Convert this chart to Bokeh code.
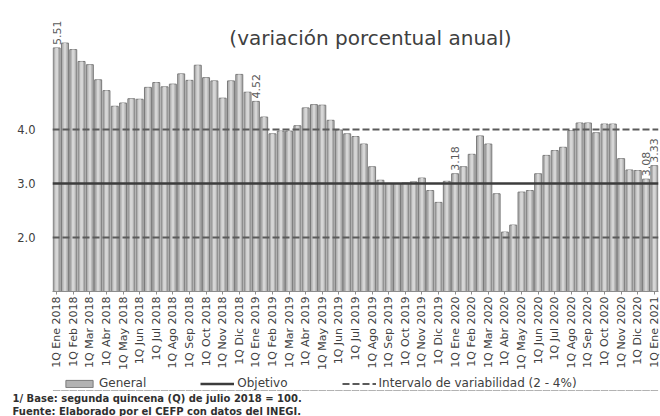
import math
from bokeh.plotting import figure
from bokeh.layouts import column
from bokeh.models import (ColumnDataSource, Range1d, FixedTicker, Label, Legend,
                          LegendItem, PrintfTickFormatter, Title)
from bokeh.embed import file_html
from bokeh.resources import INLINE
from bokeh.core.properties import value

# ---------------- data ----------------
months = ["Ene", "Feb", "Mar", "Abr", "May", "Jun", "Jul", "Ago", "Sep", "Oct", "Nov", "Dic"]
years = [2018, 2019, 2020, 2021]

inflation = [
    5.51, 5.60, 5.48, 5.26, 5.20, 4.92, 4.72, 4.43, 4.49, 4.57, 4.56, 4.78,
    4.87, 4.79, 4.84, 5.03, 4.91, 5.19, 4.96, 4.90, 4.58, 4.90, 5.02, 4.69,
    4.52, 4.23, 3.92, 3.97, 3.97, 4.07, 4.40, 4.46, 4.45, 4.17, 3.99, 3.92,
    3.87, 3.73, 3.31, 3.06, 3.00, 3.00, 3.01, 3.03, 3.10, 2.87, 2.65, 3.04,
    3.18, 3.31, 3.54, 3.88, 3.73, 2.81, 2.10, 2.23, 2.84, 2.87, 3.18, 3.52,
    3.61, 3.67, 3.98, 4.12, 4.12, 3.94, 4.10, 4.10, 3.46, 3.25, 3.24, 3.08,
    3.33,
]
quincenas = [f"{q}Q {m} {y}" for y in years for m in months for q in ("1", "2")][:len(inflation)]
labeled_idx = [0, 24, 48, 71, 72]
objetivo = 3.0
intervalo = [2.0, 4.0]
y_ticks = [2.0, 3.0, 4.0]

title_text = "(variación porcentual anual)"
legend_labels = ["General", "Objetivo", "Intervalo de variabilidad (2 - 4%)"]
notes = ["1/ Base: segunda quincena (Q) de julio 2018 = 100.",
         "Fuente: Elaborado por el CEFP con  datos del INEGI."]

# ---------------- styles ----------------
FONT = "DejaVu Sans"
TXT = "#404040"
BAR_FILL, BAR_LINE, BAR_STRIPE = "#b2b2b2", "#7a7a7a", "#d6d6d6"
OBJ_COLOR, INT_COLOR = "#3c3c3c", "#5a5a5a"

W = 660
H1, H2 = 373, 43
ML, MR, MT, MB = 52, 2, 21, 82
n = len(inflation)
idx = list(range(n))
Y0, Y1 = 1.0, 6.0
frame_w = W - ML - MR
frame_h = H1 - MT - MB


def px_x(sx):  # page px -> data x
    return -0.5 + (sx - ML) / frame_w * n


def px_y(sy):  # page px -> data y
    return Y0 + (H1 - MB - sy) / frame_h * (Y1 - Y0)


src = ColumnDataSource(dict(x=idx, top=inflation, label=quincenas))
line_x = [-0.5, n - 0.5]


def draw_series(fig, stripes=True):
    b = fig.vbar(x="x", top="top", bottom=0, width=0.84, source=src,
                 fill_color=BAR_FILL, line_color=BAR_LINE, line_width=1)
    if stripes:
        fig.vbar(x="x", top="top", bottom=0, width=0.34, source=src,
                 fill_color=BAR_STRIPE, line_color=None)
    o = fig.line(line_x, [objetivo] * 2, line_color=OBJ_COLOR, line_width=2.5)
    i = [fig.line(line_x, [lvl] * 2, line_color=INT_COLOR, line_width=2, line_dash="7 3")
         for lvl in intervalo]
    return b, o, i


# ---------------- main chart ----------------
p = figure(width=W, height=H1, output_backend="svg", toolbar_location=None,
           x_range=Range1d(-0.5, n - 0.5), y_range=Range1d(Y0, Y1),
           min_border_left=ML, min_border_right=MR, min_border_top=MT,
           min_border_bottom=MB)
p.outline_line_color = None
p.xgrid.visible = False
p.ygrid.visible = False
draw_series(p)

lab_y = [inflation[i] for i in labeled_idx]
p.text(x=labeled_idx, y=lab_y, text=[f"{v:.2f}" for v in lab_y], angle=math.pi / 2,
       text_align="left", text_baseline="middle", y_offset=-3,
       text_font=value(FONT), text_font_size="11px", text_color="#5a5a5a")

xa = p.xaxis[0]
xa.ticker = FixedTicker(ticks=idx[::2])
xa.major_label_overrides = {i: quincenas[i] for i in idx[::2]}
xa.major_label_orientation = math.pi / 2
xa.major_label_text_font = FONT
xa.major_label_text_font_size = "11px"
xa.major_label_text_color = TXT
xa.axis_line_color = "#8c8c8c"
xa.major_tick_line_color = "#8c8c8c"
xa.major_tick_out = 3
xa.major_tick_in = 0
xa.minor_tick_line_color = None
xa.major_label_standoff = 2

ya = p.yaxis[0]
ya.ticker = FixedTicker(ticks=y_ticks)
ya.formatter = PrintfTickFormatter(format="%.1f")
ya.axis_line_color = None
ya.major_tick_line_color = None
ya.minor_tick_line_color = None
ya.major_label_standoff = 11
ya.major_label_text_font = FONT
ya.major_label_text_font_size = "11.5px"
ya.major_label_text_color = TXT

p.add_layout(Label(x=px_x(370), y=px_y(37), text=title_text, text_align="center",
                   text_baseline="middle", text_font=FONT, text_font_size="20px",
                   text_color=TXT))

# ---------------- legend + notes strip ----------------
# same series, drawn out of view; only used for the legend swatches
q = figure(width=W, height=H2, output_backend="svg", toolbar_location=None,
           x_range=Range1d(-0.5, n - 0.5), y_range=Range1d(100, 101),
           x_axis_type=None, y_axis_type=None, min_border=0)
q.outline_line_color = None
q.grid.visible = False
qb, qo, qi = draw_series(q, stripes=False)

legend = Legend(items=[LegendItem(label=legend_labels[0], renderers=[qb]),
                       LegendItem(label=legend_labels[1], renderers=[qo]),
                       LegendItem(label=legend_labels[2], renderers=[qi[1]])],
                location=(10, 0), orientation="horizontal",
                glyph_width=34, glyph_height=9, label_standoff=3, spacing=54,
                label_height=12, padding=0, margin=0, border_line_color=None,
                background_fill_alpha=0, label_text_font=FONT,
                label_text_font_size="12px", label_text_color=TXT)
q.add_layout(legend, "center")

for txt in notes:
    q.add_layout(Title(text=txt, align="left", offset=12 - ML, standoff=0,
                       text_font=FONT, text_font_size="10px", text_font_style="bold",
                       text_color="#303030"), "below")

layout = column(p, q, spacing=0)
open("out.html", "w").write(file_html(layout, INLINE))
